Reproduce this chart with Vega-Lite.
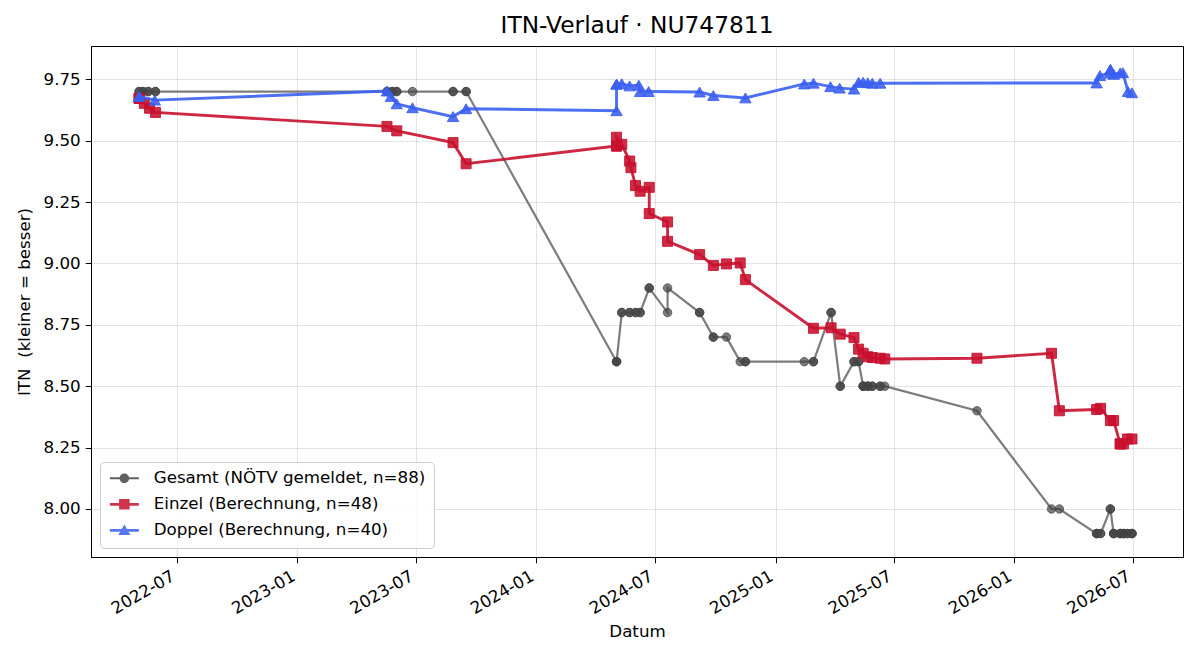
{
  "$schema": "https://vega.github.io/schema/vega-lite/v6.json",
  "width": 1092,
  "height": 511,
  "autosize": {"type": "none"},
  "padding": {"left": 91, "top": 46, "right": 17, "bottom": 103},
  "background": "white",
  "title": {
    "text": "ITN-Verlauf · NU747811",
    "font": "DejaVu Sans",
    "fontSize": 23.3,
    "fontWeight": "normal",
    "color": "black",
    "anchor": "middle",
    "offset": 8
  },
  "config": {
    "view": {"stroke": "black", "strokeWidth": 1},
    "axis": {
      "labelFont": "DejaVu Sans",
      "labelFontSize": 16.7,
      "labelColor": "black",
      "titleFont": "DejaVu Sans",
      "titleFontSize": 16.7,
      "titleFontWeight": "normal",
      "titleColor": "black",
      "tickColor": "black",
      "tickWidth": 1,
      "tickSize": 5.8,
      "labelPadding": 5,
      "domainColor": "black",
      "domainWidth": 1,
      "gridColor": "#b0b0b0",
      "gridOpacity": 0.35,
      "gridWidth": 1
    }
  },
  "data": {
    "values": [
      {"Reihe": "Gesamt", "Datum": "2022-05-04", "ITN": 9.7},
      {"Reihe": "Gesamt", "Datum": "2022-05-04", "ITN": 9.7},
      {"Reihe": "Gesamt", "Datum": "2022-05-10", "ITN": 9.7},
      {"Reihe": "Gesamt", "Datum": "2022-05-10", "ITN": 9.7},
      {"Reihe": "Gesamt", "Datum": "2022-05-18", "ITN": 9.7},
      {"Reihe": "Gesamt", "Datum": "2022-05-18", "ITN": 9.7},
      {"Reihe": "Gesamt", "Datum": "2022-05-29", "ITN": 9.7},
      {"Reihe": "Gesamt", "Datum": "2022-05-29", "ITN": 9.7},
      {"Reihe": "Gesamt", "Datum": "2023-05-18", "ITN": 9.7},
      {"Reihe": "Gesamt", "Datum": "2023-05-18", "ITN": 9.7},
      {"Reihe": "Gesamt", "Datum": "2023-05-26", "ITN": 9.7},
      {"Reihe": "Gesamt", "Datum": "2023-05-26", "ITN": 9.7},
      {"Reihe": "Gesamt", "Datum": "2023-06-02", "ITN": 9.7},
      {"Reihe": "Gesamt", "Datum": "2023-06-02", "ITN": 9.7},
      {"Reihe": "Gesamt", "Datum": "2023-06-26", "ITN": 9.7},
      {"Reihe": "Gesamt", "Datum": "2023-08-27", "ITN": 9.7},
      {"Reihe": "Gesamt", "Datum": "2023-08-27", "ITN": 9.7},
      {"Reihe": "Gesamt", "Datum": "2023-09-16", "ITN": 9.7},
      {"Reihe": "Gesamt", "Datum": "2023-09-16", "ITN": 9.7},
      {"Reihe": "Gesamt", "Datum": "2024-05-03", "ITN": 8.6},
      {"Reihe": "Gesamt", "Datum": "2024-05-03", "ITN": 8.6},
      {"Reihe": "Gesamt", "Datum": "2024-05-03", "ITN": 8.6},
      {"Reihe": "Gesamt", "Datum": "2024-05-11", "ITN": 8.8},
      {"Reihe": "Gesamt", "Datum": "2024-05-11", "ITN": 8.8},
      {"Reihe": "Gesamt", "Datum": "2024-05-23", "ITN": 8.8},
      {"Reihe": "Gesamt", "Datum": "2024-05-23", "ITN": 8.8},
      {"Reihe": "Gesamt", "Datum": "2024-06-01", "ITN": 8.8},
      {"Reihe": "Gesamt", "Datum": "2024-06-01", "ITN": 8.8},
      {"Reihe": "Gesamt", "Datum": "2024-06-08", "ITN": 8.8},
      {"Reihe": "Gesamt", "Datum": "2024-06-08", "ITN": 8.8},
      {"Reihe": "Gesamt", "Datum": "2024-06-22", "ITN": 8.9},
      {"Reihe": "Gesamt", "Datum": "2024-06-22", "ITN": 8.9},
      {"Reihe": "Gesamt", "Datum": "2024-07-20", "ITN": 8.8},
      {"Reihe": "Gesamt", "Datum": "2024-07-20", "ITN": 8.9},
      {"Reihe": "Gesamt", "Datum": "2024-09-07", "ITN": 8.8},
      {"Reihe": "Gesamt", "Datum": "2024-09-07", "ITN": 8.8},
      {"Reihe": "Gesamt", "Datum": "2024-09-28", "ITN": 8.7},
      {"Reihe": "Gesamt", "Datum": "2024-09-28", "ITN": 8.7},
      {"Reihe": "Gesamt", "Datum": "2024-10-18", "ITN": 8.7},
      {"Reihe": "Gesamt", "Datum": "2024-11-08", "ITN": 8.6},
      {"Reihe": "Gesamt", "Datum": "2024-11-16", "ITN": 8.6},
      {"Reihe": "Gesamt", "Datum": "2024-11-16", "ITN": 8.6},
      {"Reihe": "Gesamt", "Datum": "2025-02-14", "ITN": 8.6},
      {"Reihe": "Gesamt", "Datum": "2025-02-28", "ITN": 8.6},
      {"Reihe": "Gesamt", "Datum": "2025-02-28", "ITN": 8.6},
      {"Reihe": "Gesamt", "Datum": "2025-03-27", "ITN": 8.8},
      {"Reihe": "Gesamt", "Datum": "2025-03-27", "ITN": 8.8},
      {"Reihe": "Gesamt", "Datum": "2025-04-10", "ITN": 8.5},
      {"Reihe": "Gesamt", "Datum": "2025-04-10", "ITN": 8.5},
      {"Reihe": "Gesamt", "Datum": "2025-05-01", "ITN": 8.6},
      {"Reihe": "Gesamt", "Datum": "2025-05-01", "ITN": 8.6},
      {"Reihe": "Gesamt", "Datum": "2025-05-08", "ITN": 8.6},
      {"Reihe": "Gesamt", "Datum": "2025-05-08", "ITN": 8.6},
      {"Reihe": "Gesamt", "Datum": "2025-05-15", "ITN": 8.5},
      {"Reihe": "Gesamt", "Datum": "2025-05-15", "ITN": 8.5},
      {"Reihe": "Gesamt", "Datum": "2025-05-15", "ITN": 8.5},
      {"Reihe": "Gesamt", "Datum": "2025-05-22", "ITN": 8.5},
      {"Reihe": "Gesamt", "Datum": "2025-05-22", "ITN": 8.5},
      {"Reihe": "Gesamt", "Datum": "2025-05-22", "ITN": 8.5},
      {"Reihe": "Gesamt", "Datum": "2025-05-29", "ITN": 8.5},
      {"Reihe": "Gesamt", "Datum": "2025-05-29", "ITN": 8.5},
      {"Reihe": "Gesamt", "Datum": "2025-06-10", "ITN": 8.5},
      {"Reihe": "Gesamt", "Datum": "2025-06-10", "ITN": 8.5},
      {"Reihe": "Gesamt", "Datum": "2025-06-17", "ITN": 8.5},
      {"Reihe": "Gesamt", "Datum": "2025-11-05", "ITN": 8.4},
      {"Reihe": "Gesamt", "Datum": "2026-02-27", "ITN": 8.0},
      {"Reihe": "Gesamt", "Datum": "2026-03-11", "ITN": 8.0},
      {"Reihe": "Gesamt", "Datum": "2026-05-07", "ITN": 7.9},
      {"Reihe": "Gesamt", "Datum": "2026-05-07", "ITN": 7.9},
      {"Reihe": "Gesamt", "Datum": "2026-05-07", "ITN": 7.9},
      {"Reihe": "Gesamt", "Datum": "2026-05-13", "ITN": 7.9},
      {"Reihe": "Gesamt", "Datum": "2026-05-13", "ITN": 7.9},
      {"Reihe": "Gesamt", "Datum": "2026-05-28", "ITN": 8.0},
      {"Reihe": "Gesamt", "Datum": "2026-05-28", "ITN": 8.0},
      {"Reihe": "Gesamt", "Datum": "2026-06-02", "ITN": 7.9},
      {"Reihe": "Gesamt", "Datum": "2026-06-02", "ITN": 7.9},
      {"Reihe": "Gesamt", "Datum": "2026-06-02", "ITN": 7.9},
      {"Reihe": "Gesamt", "Datum": "2026-06-12", "ITN": 7.9},
      {"Reihe": "Gesamt", "Datum": "2026-06-12", "ITN": 7.9},
      {"Reihe": "Gesamt", "Datum": "2026-06-12", "ITN": 7.9},
      {"Reihe": "Gesamt", "Datum": "2026-06-17", "ITN": 7.9},
      {"Reihe": "Gesamt", "Datum": "2026-06-17", "ITN": 7.9},
      {"Reihe": "Gesamt", "Datum": "2026-06-17", "ITN": 7.9},
      {"Reihe": "Gesamt", "Datum": "2026-06-23", "ITN": 7.9},
      {"Reihe": "Gesamt", "Datum": "2026-06-23", "ITN": 7.9},
      {"Reihe": "Gesamt", "Datum": "2026-06-30", "ITN": 7.9},
      {"Reihe": "Gesamt", "Datum": "2026-06-30", "ITN": 7.9},
      {"Reihe": "Gesamt", "Datum": "2026-06-30", "ITN": 7.9},

      {"Reihe": "Einzel", "Datum": "2022-05-04", "ITN": 9.672},
      {"Reihe": "Einzel", "Datum": "2022-05-04", "ITN": 9.672},
      {"Reihe": "Einzel", "Datum": "2022-05-12", "ITN": 9.652},
      {"Reihe": "Einzel", "Datum": "2022-05-20", "ITN": 9.632},
      {"Reihe": "Einzel", "Datum": "2022-05-29", "ITN": 9.615},
      {"Reihe": "Einzel", "Datum": "2023-05-18", "ITN": 9.558},
      {"Reihe": "Einzel", "Datum": "2023-06-02", "ITN": 9.54},
      {"Reihe": "Einzel", "Datum": "2023-08-27", "ITN": 9.492},
      {"Reihe": "Einzel", "Datum": "2023-09-16", "ITN": 9.406},
      {"Reihe": "Einzel", "Datum": "2024-05-03", "ITN": 9.478},
      {"Reihe": "Einzel", "Datum": "2024-05-03", "ITN": 9.478},
      {"Reihe": "Einzel", "Datum": "2024-05-03", "ITN": 9.514},
      {"Reihe": "Einzel", "Datum": "2024-05-11", "ITN": 9.485},
      {"Reihe": "Einzel", "Datum": "2024-05-23", "ITN": 9.417},
      {"Reihe": "Einzel", "Datum": "2024-05-25", "ITN": 9.39},
      {"Reihe": "Einzel", "Datum": "2024-06-01", "ITN": 9.317},
      {"Reihe": "Einzel", "Datum": "2024-06-08", "ITN": 9.294},
      {"Reihe": "Einzel", "Datum": "2024-06-22", "ITN": 9.31},
      {"Reihe": "Einzel", "Datum": "2024-06-22", "ITN": 9.203},
      {"Reihe": "Einzel", "Datum": "2024-07-20", "ITN": 9.169},
      {"Reihe": "Einzel", "Datum": "2024-07-20", "ITN": 9.09},
      {"Reihe": "Einzel", "Datum": "2024-09-07", "ITN": 9.036},
      {"Reihe": "Einzel", "Datum": "2024-09-28", "ITN": 8.992},
      {"Reihe": "Einzel", "Datum": "2024-10-18", "ITN": 8.998},
      {"Reihe": "Einzel", "Datum": "2024-11-08", "ITN": 9.002},
      {"Reihe": "Einzel", "Datum": "2024-11-16", "ITN": 8.934},
      {"Reihe": "Einzel", "Datum": "2025-02-28", "ITN": 8.736},
      {"Reihe": "Einzel", "Datum": "2025-03-27", "ITN": 8.738},
      {"Reihe": "Einzel", "Datum": "2025-04-10", "ITN": 8.712},
      {"Reihe": "Einzel", "Datum": "2025-05-01", "ITN": 8.698},
      {"Reihe": "Einzel", "Datum": "2025-05-08", "ITN": 8.651},
      {"Reihe": "Einzel", "Datum": "2025-05-15", "ITN": 8.634},
      {"Reihe": "Einzel", "Datum": "2025-05-22", "ITN": 8.62},
      {"Reihe": "Einzel", "Datum": "2025-05-29", "ITN": 8.617},
      {"Reihe": "Einzel", "Datum": "2025-06-10", "ITN": 8.614},
      {"Reihe": "Einzel", "Datum": "2025-06-17", "ITN": 8.611},
      {"Reihe": "Einzel", "Datum": "2025-11-05", "ITN": 8.614},
      {"Reihe": "Einzel", "Datum": "2026-02-27", "ITN": 8.634},
      {"Reihe": "Einzel", "Datum": "2026-03-11", "ITN": 8.4},
      {"Reihe": "Einzel", "Datum": "2026-05-07", "ITN": 8.405},
      {"Reihe": "Einzel", "Datum": "2026-05-13", "ITN": 8.41},
      {"Reihe": "Einzel", "Datum": "2026-05-28", "ITN": 8.36},
      {"Reihe": "Einzel", "Datum": "2026-06-02", "ITN": 8.36},
      {"Reihe": "Einzel", "Datum": "2026-06-12", "ITN": 8.265},
      {"Reihe": "Einzel", "Datum": "2026-06-12", "ITN": 8.265},
      {"Reihe": "Einzel", "Datum": "2026-06-17", "ITN": 8.265},
      {"Reihe": "Einzel", "Datum": "2026-06-23", "ITN": 8.285},
      {"Reihe": "Einzel", "Datum": "2026-06-30", "ITN": 8.285},

      {"Reihe": "Doppel", "Datum": "2022-05-04", "ITN": 9.68},
      {"Reihe": "Doppel", "Datum": "2022-05-04", "ITN": 9.68},
      {"Reihe": "Doppel", "Datum": "2022-05-28", "ITN": 9.665},
      {"Reihe": "Doppel", "Datum": "2023-05-18", "ITN": 9.702},
      {"Reihe": "Doppel", "Datum": "2023-05-24", "ITN": 9.68},
      {"Reihe": "Doppel", "Datum": "2023-06-02", "ITN": 9.65},
      {"Reihe": "Doppel", "Datum": "2023-06-26", "ITN": 9.634},
      {"Reihe": "Doppel", "Datum": "2023-08-27", "ITN": 9.598},
      {"Reihe": "Doppel", "Datum": "2023-09-16", "ITN": 9.63},
      {"Reihe": "Doppel", "Datum": "2024-05-03", "ITN": 9.622},
      {"Reihe": "Doppel", "Datum": "2024-05-03", "ITN": 9.73},
      {"Reihe": "Doppel", "Datum": "2024-05-03", "ITN": 9.73},
      {"Reihe": "Doppel", "Datum": "2024-05-11", "ITN": 9.732},
      {"Reihe": "Doppel", "Datum": "2024-05-23", "ITN": 9.723},
      {"Reihe": "Doppel", "Datum": "2024-06-06", "ITN": 9.726},
      {"Reihe": "Doppel", "Datum": "2024-06-08", "ITN": 9.7},
      {"Reihe": "Doppel", "Datum": "2024-06-21", "ITN": 9.7},
      {"Reihe": "Doppel", "Datum": "2024-09-07", "ITN": 9.698},
      {"Reihe": "Doppel", "Datum": "2024-09-28", "ITN": 9.684},
      {"Reihe": "Doppel", "Datum": "2024-11-16", "ITN": 9.674},
      {"Reihe": "Doppel", "Datum": "2025-02-14", "ITN": 9.731},
      {"Reihe": "Doppel", "Datum": "2025-02-28", "ITN": 9.734},
      {"Reihe": "Doppel", "Datum": "2025-03-26", "ITN": 9.72},
      {"Reihe": "Doppel", "Datum": "2025-04-09", "ITN": 9.714},
      {"Reihe": "Doppel", "Datum": "2025-05-01", "ITN": 9.71},
      {"Reihe": "Doppel", "Datum": "2025-05-08", "ITN": 9.738},
      {"Reihe": "Doppel", "Datum": "2025-05-15", "ITN": 9.738},
      {"Reihe": "Doppel", "Datum": "2025-05-22", "ITN": 9.736},
      {"Reihe": "Doppel", "Datum": "2025-05-29", "ITN": 9.734},
      {"Reihe": "Doppel", "Datum": "2025-06-10", "ITN": 9.734},
      {"Reihe": "Doppel", "Datum": "2026-05-07", "ITN": 9.735},
      {"Reihe": "Doppel", "Datum": "2026-05-12", "ITN": 9.765},
      {"Reihe": "Doppel", "Datum": "2026-05-27", "ITN": 9.775},
      {"Reihe": "Doppel", "Datum": "2026-05-28", "ITN": 9.79},
      {"Reihe": "Doppel", "Datum": "2026-05-28", "ITN": 9.79},
      {"Reihe": "Doppel", "Datum": "2026-06-02", "ITN": 9.77},
      {"Reihe": "Doppel", "Datum": "2026-06-12", "ITN": 9.776},
      {"Reihe": "Doppel", "Datum": "2026-06-16", "ITN": 9.777},
      {"Reihe": "Doppel", "Datum": "2026-06-24", "ITN": 9.7},
      {"Reihe": "Doppel", "Datum": "2026-06-30", "ITN": 9.695}
    ]
  },
  "encoding": {
    "x": {
      "field": "Datum",
      "type": "temporal",
      "scale": {
        "type": "utc",
        "domain": [
          {"year": 2022, "month": 2, "date": 19, "hours": 12, "utc": true},
          {"year": 2026, "month": 9, "date": 16, "utc": true}
        ]
      },
      "axis": {
        "title": "Datum",
        "format": "%Y-%m",
        "values": [
          {"year": 2022, "month": 7, "date": 1, "utc": true},
          {"year": 2023, "month": 1, "date": 1, "utc": true},
          {"year": 2023, "month": 7, "date": 1, "utc": true},
          {"year": 2024, "month": 1, "date": 1, "utc": true},
          {"year": 2024, "month": 7, "date": 1, "utc": true},
          {"year": 2025, "month": 1, "date": 1, "utc": true},
          {"year": 2025, "month": 7, "date": 1, "utc": true},
          {"year": 2026, "month": 1, "date": 1, "utc": true},
          {"year": 2026, "month": 7, "date": 1, "utc": true}
        ],
        "labelAngle": -30,
        "labelAlign": "right",
        "labelBaseline": "top",
        "labelOffset": -8,
        "labelFlush": false,
        "labelOverlap": false,
        "titlePadding": 6
      }
    },
    "y": {
      "field": "ITN",
      "type": "quantitative",
      "scale": {"domain": [7.8045, 9.8855], "zero": false, "nice": false},
      "axis": {
        "title": "ITN\u00a0 (kleiner = besser)",
        "values": [8.0, 8.25, 8.5, 8.75, 9.0, 9.25, 9.5, 9.75],
        "format": ".2f",
        "titlePadding": 10
      }
    },
    "color": {
      "field": "Reihe",
      "type": "nominal",
      "scale": {
        "domain": ["Gesamt", "Einzel", "Doppel"],
        "range": ["#444444", "#c8102e", "#3a5ff0"]
      },
      "legend": {
        "title": null,
        "orient": "bottom-left",
        "offset": 9,
        "padding": 8,
        "fillColor": "rgba(255,255,255,0.8)",
        "strokeColor": "#cccccc",
        "cornerRadius": 4,
        "labelFont": "DejaVu Sans",
        "labelFontSize": 16.7,
        "labelColor": "black",
        "labelLimit": 0,
        "labelOffset": 21,
        "symbolSize": 100,
        "symbolOffset": 8,
        "symbolOpacity": 0.85,
        "symbolStrokeWidth": 0,
        "rowPadding": 8,
        "symbolType": {"expr": "datum.value === 'Gesamt' ? 'M-2.9,-0.2H2.9V0.2H-2.9Z M0.95,0A0.95,0.95 0 1,1 -0.95,0A0.95,0.95 0 1,1 0.95,0Z' : datum.value === 'Einzel' ? 'M-2.9,-0.28H2.9V0.28H-2.9Z M-1.05,-1.05H1.05V1.05H-1.05Z' : 'M-2.9,-0.28H2.9V0.28H-2.9Z M0,-1.15L1.2,0.95H-1.2Z'"},
        "labelExpr": "datum.value === 'Gesamt' ? 'Gesamt (NÖTV gemeldet, n=88)' : datum.value === 'Einzel' ? 'Einzel (Berechnung, n=48)' : 'Doppel (Berechnung, n=40)'"
      }
    }
  },
  "layer": [
    {
      "transform": [{"filter": "datum.Reihe === 'Gesamt'"}],
      "mark": {"type": "line", "strokeWidth": 2.2, "opacity": 0.7}
    },
    {
      "transform": [{"filter": "datum.Reihe === 'Gesamt'"}],
      "mark": {"type": "point", "shape": "circle", "filled": true, "size": 72, "stroke": "#444444", "strokeWidth": 1, "fillOpacity": 0.7, "strokeOpacity": 0.7}
    },
    {
      "transform": [{"filter": "datum.Reihe === 'Einzel'"}],
      "mark": {"type": "line", "strokeWidth": 2.9, "opacity": 0.9}
    },
    {
      "transform": [{"filter": "datum.Reihe === 'Einzel'"}],
      "mark": {"type": "point", "shape": "square", "filled": true, "size": 100, "stroke": "#c8102e", "strokeWidth": 1, "fillOpacity": 0.88, "strokeOpacity": 0.88}
    },
    {
      "transform": [{"filter": "datum.Reihe === 'Doppel'"}],
      "mark": {"type": "line", "strokeWidth": 2.9, "opacity": 0.9}
    },
    {
      "transform": [{"filter": "datum.Reihe === 'Doppel'"}],
      "mark": {"type": "point", "shape": "triangle-up", "filled": true, "size": 130, "stroke": "#3a5ff0", "strokeWidth": 1, "fillOpacity": 0.88, "strokeOpacity": 0.88}
    }
  ]
}
